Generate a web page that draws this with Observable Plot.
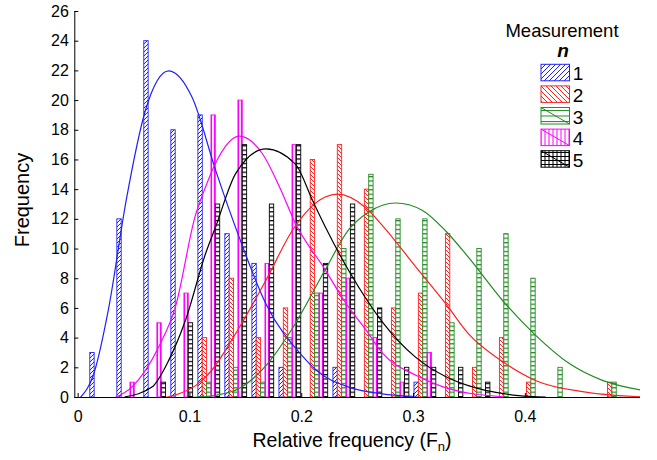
<!DOCTYPE html>
<html><head><meta charset="utf-8">
<script src="https://cdn.jsdelivr.net/npm/d3@7"></script>
<script src="https://cdn.jsdelivr.net/npm/@observablehq/plot@0.6"></script>
<style>body{margin:0;background:#fff}</style>
</head><body><div id="chart"></div>
<script>
// Bin centres (relative frequency) of the grouped histogram
const bins = [0.0206,0.0448,0.0689,0.0931,0.1173,0.1414,0.1656,0.1898,0.2139,0.2381,0.2623,0.2865,0.3106,0.3348,0.3590,0.3831,0.4073,0.4315,0.4557,0.4798];
// Frequencies per measurement n
const counts1 = [3,12,24,18,19,11,9,2,0,2,0,0,1,0,0,0,0,0,0,0];
const counts2 = [0,0,0,0,4,8,4,6,16,17,14,6,7,11,2,4,1,0,0,1];
const counts3 = [0,0,0,0,1,2,1,4,7,10,15,12,12,5,10,11,8,2,0,1];
const counts4 = [0,1,5,7,19,20,9,17,7,8,4,1,3,0,0,0,0,0,0,0];
const counts5 = [0,0,1,5,13,17,13,17,9,13,6,2,2,2,1,0,0,0,0,0];
// Fitted curves: [relative frequency, frequency]
const curve1 = [[0.002,0],[0.014,1.6],[0.027,5.9],[0.043,13.3],[0.060,19.3],[0.081,22.0],[0.102,20.2],[0.123,15.3],[0.144,10.8],[0.168,6.3],[0.2005,2.8],[0.212,1.9],[0.242,0.7],[0.272,0.25],[0.299,0.08]];
const curve2 = [[0.078,0],[0.092,0.3],[0.105,0.8],[0.118,1.7],[0.144,4.7],[0.168,7.9],[0.192,11.3],[0.221,13.5],[0.232,13.7],[0.257,12.8],[0.272,11.6],[0.302,8.8],[0.329,6.3],[0.349,4.3],[0.380,2.4],[0.409,1.15],[0.454,0.36],[0.503,0.05]];
const curve3 = [[0.100,0],[0.123,0.15],[0.144,0.6],[0.168,2.15],[0.192,4.7],[0.221,8.6],[0.242,11.3],[0.260,12.5],[0.284,13.1],[0.308,12.6],[0.329,11.2],[0.349,9.45],[0.380,6.5],[0.409,4.2],[0.439,2.3],[0.469,1.15],[0.503,0.5]];
const curve4 = [[0.033,0],[0.048,0.7],[0.072,3.4],[0.087,6.1],[0.105,12.3],[0.112,13.8],[0.123,15.8],[0.144,17.6],[0.165,16.4],[0.180,14.2],[0.1945,11.7],[0.221,8.6],[0.239,6.4],[0.257,4.6],[0.272,3.0],[0.302,1.5],[0.329,0.65],[0.380,0.05]];
const curve5 = [[0.042,0.05],[0.066,0.7],[0.081,2.5],[0.096,5.2],[0.114,9.7],[0.123,11.5],[0.141,15.1],[0.168,16.75],[0.1945,15.7],[0.2095,13.3],[0.221,11.5],[0.242,8.55],[0.272,5.1],[0.302,2.7],[0.329,1.4],[0.349,0.8],[0.394,0.13],[0.418,0.03]];
const seriesLabels = ["1","2","3","4","5"];
const xTicks = [0,0.1,0.2,0.3,0.4];
const yTicks = [0,2,4,6,8,10,12,14,16,18,20,22,24,26];
const xTitle = "Relative frequency (F";
const xTitleSub = "n";
const yTitle = "Frequency";
const legendTitle = "Measurement";
const legendSub = "n";

const colors = ["#1f1fff","#ff2020","#228b22","#ff00ff","#000000"];
const xDomain = [-0.003, 0.503];
const barW = 0.0039;
const counts = [counts1,counts2,counts3,counts4,counts5];
const curves = [curve1,curve2,curve3,curve4,curve5];
const font = "'Liberation Sans', Arial, sans-serif";

const marks = [];
counts.forEach((c, i) => {
  const data = bins.map((b, k) => ({x1: b + (i - 2.5) * barW, x2: b + (i - 1.5) * barW, y: c[k]})).filter(d => d.y > 0);
  marks.push(Plot.rect(data, {x1: "x1", x2: "x2", y1: 0, y2: "y", fill: `url(#bar${i})`, stroke: colors[i], strokeWidth: 0.9}));
});
curves.forEach((c, i) => {
  marks.push(Plot.line(c, {x: d => d[0], y: d => d[1], stroke: colors[i], strokeWidth: 1.2, curve: "monotone-x", clip: true}));
});
marks.push(Plot.ruleY([0], {stroke: "#000"}));
marks.push(Plot.ruleX([xDomain[0]], {stroke: "#000"}));
marks.push(Plot.axisX({ticks: xTicks, tickFormat: d => String(d), tickSize: -4, tickPadding: 17, label: null}));
marks.push(Plot.axisY({ticks: yTicks, tickSize: -4, tickPadding: 10, label: null}));

const chart = Plot.plot({
  width: 657, height: 460,
  marginLeft: 74.3, marginRight: 17, marginTop: 11, marginBottom: 63,
  style: {fontFamily: font, fontSize: "16px", background: "#fff", color: "#000"},
  x: {domain: xDomain},
  y: {domain: [0, 26]},
  marks
});
document.getElementById("chart").appendChild(chart);

const svg = d3.select(chart);
const defs = svg.insert("defs", ":first-child");
function pattern(id, w, h, d, color, sw) {
  const p = defs.append("pattern").attr("id", id).attr("patternUnits", "userSpaceOnUse").attr("width", w).attr("height", h);
  p.append("rect").attr("width", w).attr("height", h).attr("fill", "#fff");
  p.append("path").attr("d", d).attr("stroke", color).attr("stroke-width", sw).attr("fill", "none");
}
// bar patterns
pattern("bar0", 4, 4, "M-1,1L1,-1M0,4L4,0M3,5L5,3", colors[0], 1);
pattern("bar1", 4, 4, "M-1,3L1,5M0,0L4,4M3,-1L5,1", colors[1], 1);
pattern("bar2", 4, 4.4, "M0,0.6H4", colors[2], 1.3);
pattern("bar3", 3, 3, "M1.5,0V3", colors[3], 1.2);
pattern("bar4", 4, 4.4, "M0,0.6H4", colors[4], 1.3);
// legend patterns
pattern("leg0", 5, 5, "M-1,1L1,-1M0,5L5,0M4,6L6,4", colors[0], 1);
pattern("leg1", 5, 5, "M-1,4L1,6M0,0L5,5M4,-1L6,1", colors[1], 1);
pattern("leg2", 5, 5.5, "M0,0.5H5", colors[2], 1);
pattern("leg3", 4, 4, "M1,0V4", colors[3], 1);
pattern("leg4", 4, 4, "M0,0.5H4M1,0V4", colors[4], 1);

// axis titles
svg.append("text").attr("transform", "translate(29,200) rotate(-90)").attr("text-anchor", "middle")
  .attr("font-size", 20).attr("font-family", font).text(yTitle);
const xt = svg.append("text").attr("x", 352).attr("y", 447).attr("text-anchor", "middle").attr("font-size", 19.5).attr("font-family", font);
xt.append("tspan").text(xTitle);
xt.append("tspan").attr("font-size", 13).attr("dy", 4).text(xTitleSub);
xt.append("tspan").attr("dy", -4).text(")");

// legend
const lg = svg.append("g").attr("font-family", font);
lg.append("text").attr("x", 562).attr("y", 37).attr("text-anchor", "middle").attr("font-size", 18.5).text(legendTitle);
lg.append("text").attr("x", 563).attr("y", 57).attr("text-anchor", "middle").attr("font-size", 19)
  .attr("font-weight", "bold").attr("font-style", "italic").text(legendSub);
seriesLabels.forEach((lab, i) => {
  const y0 = 64.3 + i * 21.6;
  lg.append("rect").attr("x", 541).attr("y", y0).attr("width", 28.5).attr("height", 16.5)
    .attr("fill", `url(#leg${i})`).attr("stroke", colors[i]).attr("stroke-width", 1);
  if (i >= 2) lg.append("line").attr("x1", 541).attr("y1", y0).attr("x2", 569.5).attr("y2", y0 + 16.5)
    .attr("stroke", colors[i]).attr("stroke-width", 1);
  lg.append("text").attr("x", 578).attr("y", y0 + 16).attr("font-size", 19).text(lab);
});
</script>
</body></html>
